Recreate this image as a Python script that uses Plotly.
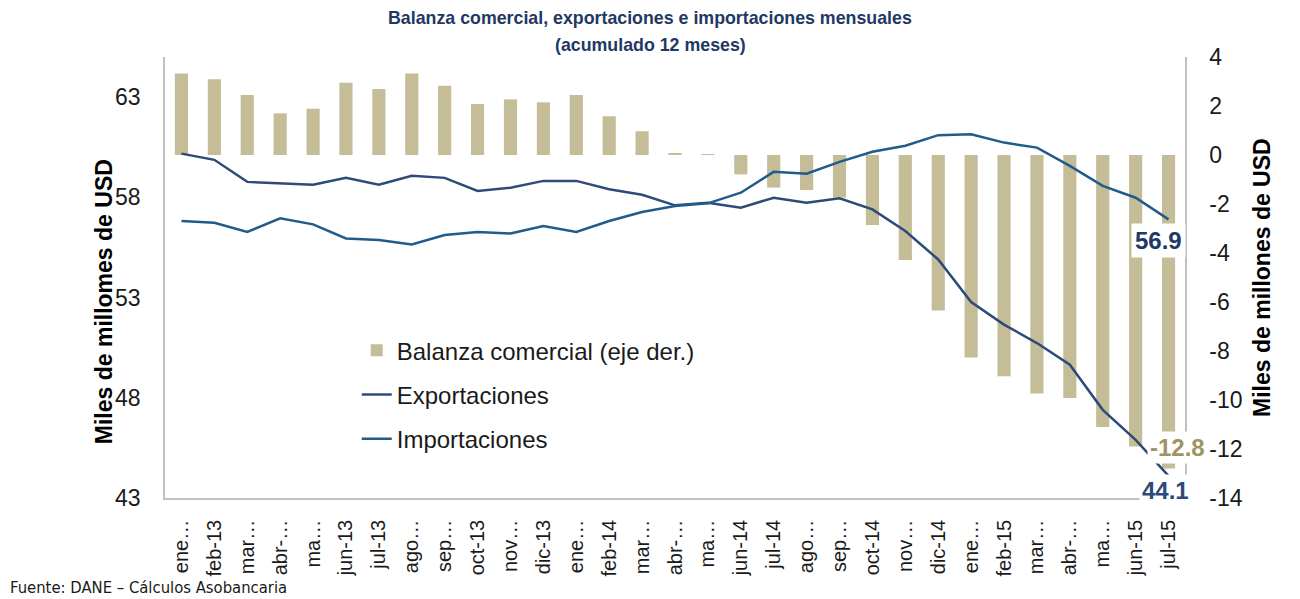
import plotly.graph_objects as go

# ---------------- data ----------------
months = [
    "ene-13", "feb-13", "mar-13", "abr-13", "may-13", "jun-13", "jul-13", "ago-13",
    "sep-13", "oct-13", "nov-13", "dic-13", "ene-14", "feb-14", "mar-14", "abr-14",
    "may-14", "jun-14", "jul-14", "ago-14", "sep-14", "oct-14", "nov-14", "dic-14",
    "ene-15", "feb-15", "mar-15", "abr-15", "may-15", "jun-15", "jul-15",
]
tick_labels = [
    "ene…", "feb-13", "mar…", "abr-…", "ma…", "jun-13", "jul-13", "ago…",
    "sep…", "oct-13", "nov…", "dic-13", "ene…", "feb-14", "mar…", "abr-…",
    "ma…", "jun-14", "jul-14", "ago…", "sep…", "oct-14", "nov…", "dic-14",
    "ene…", "feb-15", "mar…", "abr-…", "ma…", "jun-15", "jul-15",
]
# Balanza comercial (miles de millones USD, eje derecho)
balance = [3.33, 3.09, 2.45, 1.70, 1.89, 2.95, 2.69, 3.33, 2.83, 2.08, 2.27, 2.15,
           2.45, 1.58, 0.97, 0.05, 0.03, -0.79, -1.33, -1.43, -1.74, -2.86, -4.29,
           -6.35, -8.27, -9.03, -9.73, -9.92, -11.10, -11.90, -12.8]
# Exportaciones (eje izquierdo)
exports = [60.18, 59.87, 58.77, 58.70, 58.63, 58.97, 58.63, 59.07, 58.97, 58.32,
           58.48, 58.82, 58.82, 58.40, 58.13, 57.60, 57.73, 57.48, 57.98, 57.73,
           57.95, 57.40, 56.32, 54.90, 52.78, 51.65, 50.73, 49.65, 47.40, 45.90, 44.1]
# Importaciones (eje izquierdo)
imports = [56.82, 56.73, 56.27, 56.95, 56.65, 55.95, 55.87, 55.65, 56.12, 56.27,
           56.20, 56.57, 56.27, 56.82, 57.27, 57.57, 57.70, 58.23, 59.27, 59.18,
           59.77, 60.27, 60.57, 61.10, 61.15, 60.73, 60.48, 59.57, 58.57, 57.98, 56.9]
left_ticks = [43, 48, 53, 58, 63]
right_ticks = [4, 2, 0, -2, -4, -6, -8, -10, -12, -14]

# ---------------- styles ----------------
BAR_C = "#C4BD97"
EXP_C = "#2E4A78"
IMP_C = "#1F5C8C"
AXIS_C = "#C0C0C0"
TXT_C = "#1A1A1A"
FONT = "Liberation Sans, Arial, sans-serif"

fig = go.Figure()
fig.add_trace(go.Bar(
    x=months, y=balance, name="Balanza comercial (eje der.)",
    marker=dict(color=BAR_C, line=dict(width=0)), width=0.4,
    yaxis="y", legendgroup="b",
))
fig.add_trace(go.Scatter(
    x=months, y=exports, name="Exportaciones", mode="lines",
    line=dict(color=EXP_C, width=2.5), yaxis="y2", legendgroup="e",
))
fig.add_trace(go.Scatter(
    x=months, y=imports, name="Importaciones", mode="lines",
    line=dict(color=IMP_C, width=2.5), yaxis="y2", legendgroup="i",
))

annotations = [
    # title
    dict(text="<b>Balanza comercial, exportaciones e importaciones mensuales</b>",
         xref="paper", yref="paper", x=0.4755, y=1, yshift=39,
         xanchor="center", yanchor="middle", showarrow=False,
         font=dict(family=FONT, size=17.8, color="#1F3864")),
    dict(text="<b>(acumulado 12 meses)</b>",
         xref="paper", yref="paper", x=0.4755, y=1, yshift=12,
         xanchor="center", yanchor="middle", showarrow=False,
         font=dict(family=FONT, size=17.8, color="#1F3864")),
    # axis titles
    dict(text="<b>Miles de millomes de USD</b>", textangle=-90,
         xref="paper", yref="paper", x=-0.0598, y=0.444,
         xanchor="center", yanchor="middle", showarrow=False,
         font=dict(family=FONT, size=23, color="#000000")),
    dict(text="<b>Miles de millones de USD</b>", textangle=-90,
         xref="paper", yref="paper", x=1.0755, y=0.499,
         xanchor="center", yanchor="middle", showarrow=False,
         font=dict(family=FONT, size=23, color="#000000")),
    # footer
    dict(text="Fuente: DANE – Cálculos Asobancaria",
         xref="paper", yref="paper", x=-0.1539, y=-0.204,
         xanchor="left", yanchor="middle", showarrow=False,
         font=dict(family="DejaVu Sans Condensed, DejaVu Sans, sans-serif", size=16.5, color="#1A1A1A")),
    # data labels
    dict(text=f"<b>{imports[-1]:.1f}</b>", x=months[-1], y=imports[-1], xref="x", yref="y2",
         xshift=-10, yshift=-21, showarrow=False, bgcolor="white", borderpad=3,
         font=dict(family=FONT, size=24, color="#1F3864")),
    dict(text=f"<b>{balance[-1]:.1f}</b>", x=months[-1], y=balance[-1], xref="x", yref="y",
         xshift=9, yshift=21, showarrow=False, bgcolor="white", borderpad=2,
         font=dict(family=FONT, size=24, color="#A0935F")),
    dict(text=f"<b>{exports[-1]:.1f}</b>", x=months[-1], y=exports[-1], xref="x", yref="y2",
         xshift=-3, yshift=-15, showarrow=False, bgcolor="white", borderpad=2,
         font=dict(family=FONT, size=24, color=EXP_C)),
]

# page body adds an 8px margin, so the figure is drawn 8px in from the corner
fig.update_layout(
    width=1292, height=591,
    margin=dict(l=157, r=115, t=49, b=101, pad=0),
    paper_bgcolor="white", plot_bgcolor="white",
    font=dict(family=FONT, color=TXT_C),
    showlegend=True,
    legend=dict(x=0.188, y=0.385, xanchor="left", yanchor="top",
                font=dict(family=FONT, size=24, color=TXT_C),
                bgcolor="rgba(0,0,0,0)", tracegroupgap=10, traceorder="grouped"),
    bargap=0.6,
    xaxis=dict(type="category", categoryorder="array", categoryarray=months,
               range=[-0.5, len(months) - 0.5],
               tickvals=months, ticktext=tick_labels, tickangle=-90,
               tickfont=dict(family=FONT, size=20, color=TXT_C),
               showline=True, linecolor=AXIS_C, linewidth=1.5,
               showgrid=False, zeroline=False, ticks="", ticklabelstandoff=12,
               anchor="y"),
    yaxis=dict(side="right", range=[-14, 4],
               tickvals=right_ticks, ticktext=[str(v) for v in right_ticks],
               tickfont=dict(family=FONT, size=23, color=TXT_C),
               showline=True, linecolor=AXIS_C, linewidth=1.5,
               showgrid=False, zeroline=False, ticks="", ticklabelstandoff=18),
    yaxis2=dict(side="left", overlaying="y", range=[43, 65],
                tickvals=left_ticks, ticktext=[str(v) for v in left_ticks],
                tickfont=dict(family=FONT, size=23, color=TXT_C),
                showline=True, linecolor=AXIS_C, linewidth=1.5,
                showgrid=False, zeroline=False, ticks="", ticklabelstandoff=18),
    annotations=annotations,
)

fig.write_html("out.html")
